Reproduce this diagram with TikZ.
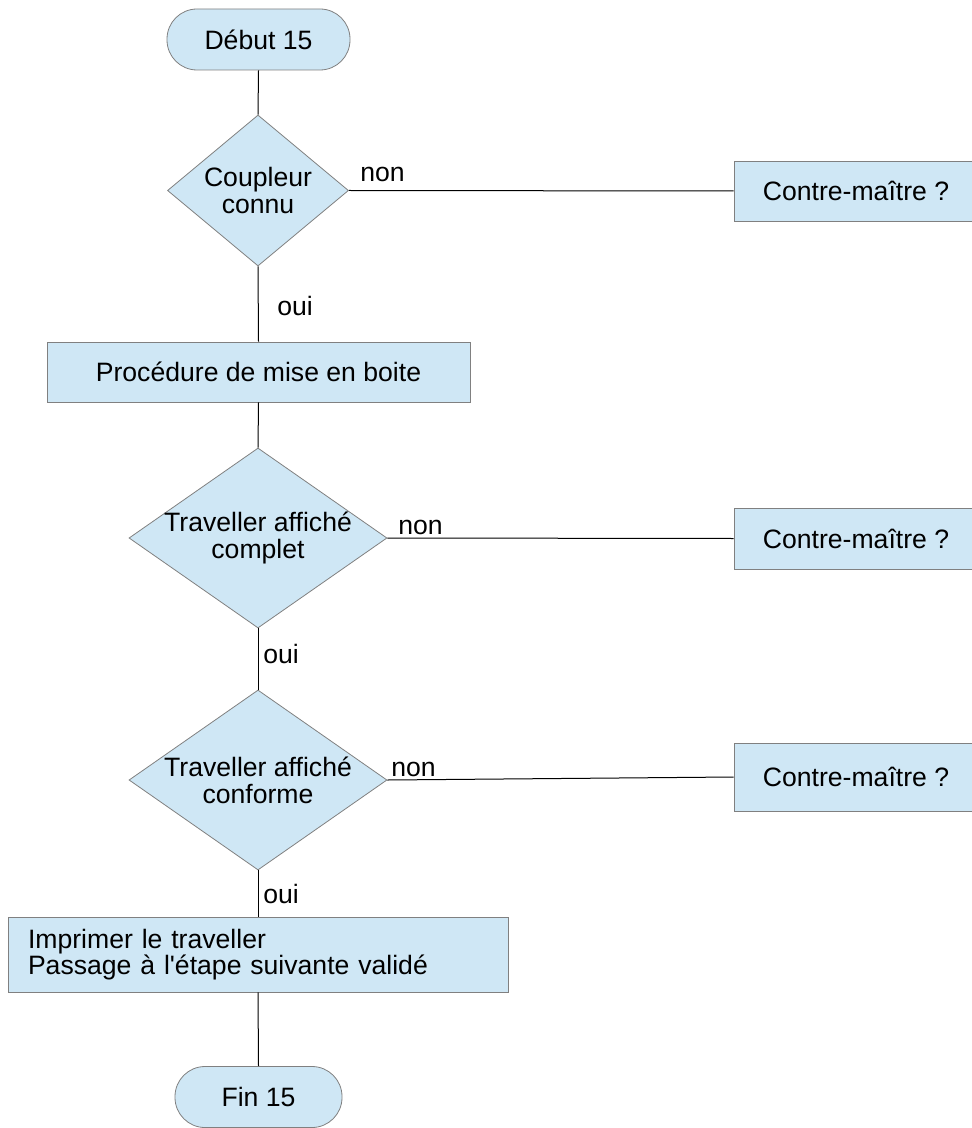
\documentclass[tikz,border=0pt]{standalone}
\usepackage{fontspec}
\setmainfont{Liberation Sans}[Ligatures=TeXOff]
\usetikzlibrary{shapes,positioning}
\definecolor{boxfill}{RGB}{207,231,245}
\definecolor{boxline}{RGB}{128,128,128}

\begin{document}
\begin{tikzpicture}[x=0.5pt,y=-0.5pt,
	font=\fontsize{13.3}{13}\selectfont,
	term/.style={draw=boxline,fill=boxfill,rectangle,rounded corners=15pt,minimum height=30.5pt,inner sep=0pt},
	choix/.style={draw=boxline,fill=boxfill,diamond,inner sep=0pt},
	boite/.style={draw=boxline,fill=boxfill,rectangle,inner sep=0pt},
	texte/.style={align=center,font=\fontsize{13.3}{13.5}\selectfont},
	lien/.style={black,line width=0.5pt},
	rep/.style={anchor=base west,inner sep=0pt}]
\useasboundingbox (0,0) rectangle (972,1128);

\node[term,minimum width=91.5pt] (debut) at (258.5,39.5) {Début 15};
\node[choix,minimum width=90.5pt,minimum height=75.5pt,label={[texte]center:Coupleur\\connu}] (coupleur) at (258,190.5) {};
\node[boite,minimum width=211.5pt,minimum height=30pt] (proc) at (258.5,372) {Procédure de mise en boite};
\node[choix,minimum width=129pt,minimum height=90pt,label={[texte]center:Traveller affiché\\complet}] (compl) at (258,538) {};
\node[choix,minimum width=129pt,minimum height=90pt,label={[texte]center:Traveller affiché\\conforme}] (conf) at (258,780) {};
\node[boite,text width=230pt,inner xsep=10pt,align=left,minimum height=37.5pt] (imprimer) at (258,954.5) {Imprimer le traveller\\Passage à l'étape suivante validé};
\node[term,minimum width=83.5pt] (fin) at (258.5,1097) {Fin 15};

\node[boite,minimum width=122pt,minimum height=30pt] (cm1) at (856,191) {Contre-maître ?};
\node[boite,minimum width=122pt,minimum height=30.5pt] (cm2) at (856,538.5) {Contre-maître ?};
\node[boite,minimum width=122pt,minimum height=34pt] (cm3) at (856,777) {Contre-maître ?};

\foreach \a/\b in {debut/coupleur,coupleur/proc,proc/compl,compl/conf,conf/imprimer,imprimer/fin}
	\draw[lien] (\a.south) -- (\b.north);
\foreach \d/\c in {coupleur/cm1,compl/cm2,conf/cm3}
	\draw[lien] (\d.east) -- (\c.west);

\node[rep] (non1) at (360,182) {non};
\node[rep] (non2) at (398,534) {non};
\node[rep] (non3) at (391,776) {non};
\node[rep] (oui1) at (277,315) {oui};
\node[rep] (oui2) at (263,663) {oui};
\node[rep] (oui3) at (263,903) {oui};
\end{tikzpicture}
\end{document}
